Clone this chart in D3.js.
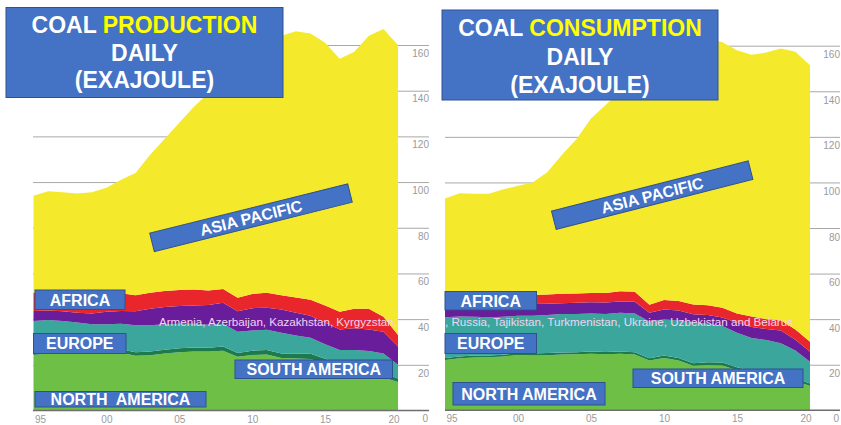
<!DOCTYPE html>
<html>
<head>
<meta charset="utf-8">
<script src="https://cdn.jsdelivr.net/npm/d3@7"></script>
<style>
  html, body { margin: 0; padding: 0; background: #ffffff; }
  svg { display: block; font-family: "Liberation Sans", Arial, sans-serif; }
</style>
</head>
<body>
<svg id="chart" width="841" height="425"></svg>
<script>
// ---- data (exajoules) ----
const years = [1995, 1996, 1997, 1998, 1999, 2000, 2001, 2002, 2003, 2004, 2005, 2006, 2007,
               2008, 2009, 2010, 2011, 2012, 2013, 2014, 2015, 2016, 2017, 2018, 2019, 2020];

const seriesKeys = ["North America", "South America", "Europe", "CIS", "Africa", "Asia Pacific"];
const seriesColors = ["#6dbf46", "#1d7a4c", "#3ba69c", "#6a1d9b", "#e8262b", "#f5e92c"];

// production by region
const prodNorthAmerica = [24.3, 25.0, 25.2, 25.0, 24.7, 25.0, 25.3, 24.0, 24.2, 25.0, 25.5, 25.8, 25.8,
                          26.2, 23.5, 24.3, 24.5, 23.0, 22.8, 22.5, 20.5, 18.0, 18.2, 17.5, 14.5, 12.5];
const prodSouthAmerica = [1.2, 1.2, 1.2, 1.3, 1.3, 1.4, 1.5, 1.5, 1.6, 1.6, 1.7, 1.8, 1.7,
                          1.8, 1.7, 1.9, 2.0, 2.0, 2.2, 2.3, 2.1, 2.0, 2.3, 2.3, 2.0, 1.5];
const prodEurope       = [13.7, 13.4, 12.8, 12.2, 11.8, 11.4, 11.2, 11.8, 11.5, 11.2, 10.8, 10.4, 10.0,
                          10.0, 9.3, 8.8, 8.8, 9.0, 7.8, 7.0, 6.4, 6.5, 6.0, 6.2, 8.5, 6.0];
const prodCIS          = [4.4, 4.2, 4.2, 4.3, 4.7, 5.4, 5.6, 6.2, 7.2, 7.5, 7.8, 8.0, 8.7,
                          9.2, 9.0, 9.8, 9.7, 10.2, 10.0, 9.7, 9.5, 9.0, 9.5, 9.5, 9.5, 8.0];
const prodAfrica       = [7.9, 8.2, 8.6, 8.7, 8.8, 8.4, 7.7, 7.0, 7.0, 7.0, 7.0, 7.0, 6.3,
                          6.0, 5.9, 6.2, 6.5, 6.3, 6.7, 7.0, 7.5, 7.7, 8.5, 9.0, 6.5, 5.0];
const prodAsiaPacific  = [42.5, 44.0, 43.5, 43.5, 44.2, 45.9, 49.7, 53.5, 60.5, 66.7, 73.2, 80.0, 86.5,
                          91.8, 98.6, 105.0, 113.5, 113.5, 116.5, 116.5, 115.0, 110.8, 112.5, 119.5, 126.0, 127.0];

// consumption by region
const consNorthAmerica = [22.1, 22.8, 23.2, 23.3, 23.6, 24.3, 24.0, 24.2, 24.5, 24.6, 24.8, 24.6, 24.8,
                          24.5, 21.8, 22.9, 21.9, 19.5, 19.9, 19.7, 17.6, 15.9, 15.4, 14.9, 13.0, 10.7];
const consSouthAmerica = [0.8, 0.8, 0.8, 0.8, 0.8, 0.8, 0.9, 0.9, 0.9, 0.9, 1.0, 1.0, 1.0,
                          1.0, 1.0, 1.1, 1.1, 1.2, 1.2, 1.3, 1.3, 1.3, 1.3, 1.3, 1.2, 1.1];
const consEurope       = [17.9, 17.6, 17.0, 16.7, 16.6, 16.4, 16.6, 16.7, 16.9, 16.8, 16.7, 16.7, 17.0,
                          17.0, 16.2, 16.0, 16.4, 17.8, 16.9, 16.0, 15.1, 14.5, 14.1, 13.2, 12.0, 9.5];
const consCIS          = [5.2, 5.1, 5.0, 5.0, 5.0, 5.0, 5.2, 5.0, 4.7, 4.9, 4.9, 5.0, 5.0,
                          5.1, 3.8, 4.2, 4.4, 3.7, 3.8, 3.7, 4.4, 4.9, 4.9, 5.6, 4.8, 4.4];
const consAfrica       = [4.5, 4.7, 4.7, 4.5, 4.5, 4.3, 3.9, 4.0, 4.2, 4.1, 4.1, 4.2, 4.4,
                          4.4, 3.5, 4.2, 4.2, 4.2, 4.3, 4.3, 4.1, 4.6, 4.3, 4.5, 4.5, 4.4];
const consAsiaPacific  = [42.5, 44.2, 44.3, 44.7, 46.5, 47.7, 49.4, 53.7, 60.8, 67.7, 76.5, 82.5, 87.8,
                          91.0, 94.7, 101.6, 110.0, 112.6, 116.9, 116.5, 115.5, 114.8, 117.0, 119.3, 121.8, 121.3];

const yTickValues = [0, 20, 40, 60, 80, 100, 120, 140, 160];
const xTickYears = [1995, 2000, 2005, 2010, 2015, 2020];
const xTickLabels = ["95", "00", "05", "10", "15", "20"];

// CIS member note, one piece over each panel
const cisNoteParts = [
  "Armenia, Azerbaijan, Kazakhstan, Kyrgyzstan,",
  ", Russia, Tajikistan, Turkmenistan, Ukraine, Uzbekistan and Belarus"
];

// ---- layout ----
const svg = d3.select("#chart");
const BOX_FILL = "#4472c4", BOX_EDGE = "#2f528f";

function buildRows(cols) {
  return years.map((yr, i) => {
    const row = { year: yr };
    seriesKeys.forEach((k, j) => { row[k] = cols[j][i]; });
    return row;
  });
}

const panels = [
  {
    rows: buildRows([prodNorthAmerica, prodSouthAmerica, prodEurope, prodCIS, prodAfrica, prodAsiaPacific]),
    xRange: [33.5, 398], gridRange: [33, 429], yRange: [410.5, 45], labelDy: 11.3,
    title: ["PRODUCTION", 144.5, [32.5, 60.8, 88.2]],
    titleBox: [6, 7.5, 277, 90],
    labels: [
      { text: "AFRICA", box: [35, 290, 90, 19.5] },
      { text: "EUROPE", box: [33.5, 333.5, 92.5, 20] },
      { text: "NORTH  AMERICA", box: [35, 391.5, 171, 15.5] },
      { text: "SOUTH AMERICA", box: [235, 360, 157.5, 18.5] }
    ],
    tilted: { cx: 251, cy: 217.7, w: 204, h: 19, angle: -14 },
    note: { text: cisNoteParts[0], x: 159, width: 238 }
  },
  {
    rows: buildRows([consNorthAmerica, consSouthAmerica, consEurope, consCIS, consAfrica, consAsiaPacific]),
    xRange: [445, 810], gridRange: [445, 840], yRange: [410.3, 45.7], labelDy: 12,
    title: ["CONSUMPTION", 580, [36, 64.5, 92.5]],
    titleBox: [442, 10, 276, 90],
    labels: [
      { text: "AFRICA", box: [445, 291.5, 91.5, 18.5] },
      { text: "EUROPE", box: [445, 333.5, 91.5, 20] },
      { text: "NORTH AMERICA", box: [453, 382.5, 152, 22.5] },
      { text: "SOUTH AMERICA", box: [633, 369, 170, 18.5] }
    ],
    tilted: { cx: 652.2, cy: 195.2, w: 203, h: 19, angle: -14.3 },
    note: { text: cisNoteParts[1], x: 445, width: 348 }
  }
];

const stack = d3.stack().keys(seriesKeys);
const gridLayer = svg.append("g");
const areaLayer = svg.append("g");
const axisLayer = svg.append("g");
const boxLayer = svg.append("g");
const noteLayer = svg.append("g");
const titleLayer = svg.append("g");

function labelBox(parent, text, x, y, w, h) {
  parent.append("rect")
    .attr("x", x).attr("y", y).attr("width", w).attr("height", h)
    .attr("fill", BOX_FILL).attr("stroke", BOX_EDGE).attr("stroke-width", 1);
  parent.append("text")
    .attr("x", x + w / 2).attr("y", y + h / 2 + 5.8)
    .attr("text-anchor", "middle")
    .attr("font-size", 16).attr("font-weight", "bold")
    .attr("fill", "#ffffff")
    .style("white-space", "pre")
    .text(text);
}

panels.forEach(p => {
  const x = d3.scaleLinear().domain([1995, 2020]).range(p.xRange);
  const y = d3.scaleLinear().domain([0, 160]).range(p.yRange);

  // horizontal gridlines with hanging value labels at the right end
  const yAxis = d3.axisRight(y)
    .tickValues(yTickValues.filter(v => v > 0))
    .tickSize(-(p.gridRange[1] - p.gridRange[0]))
    .tickFormat(d3.format("d"));
  const gy = gridLayer.append("g")
    .attr("transform", `translate(${p.gridRange[1]},0)`)
    .call(yAxis);
  gy.select(".domain").remove();
  gy.selectAll(".tick line").attr("stroke", "#a8a8a8").attr("stroke-width", 1);
  gy.selectAll(".tick text")
    .attr("x", 0).attr("dy", null).attr("y", p.labelDy)
    .attr("text-anchor", "end")
    .attr("font-size", 10).attr("fill", "#9a9a9a")
    .attr("font-family", "Liberation Sans, Arial, sans-serif");

  // stacked regional areas
  const layers = stack(p.rows);
  const area = d3.area()
    .x(d => x(d.data.year))
    .y0(d => y(d[0]))
    .y1(d => y(d[1]));
  areaLayer.append("g").selectAll("path")
    .data(layers)
    .join("path")
    .attr("d", area)
    .attr("fill", (d, i) => seriesColors[i]);

  // zero baseline and its label
  axisLayer.append("line")
    .attr("x1", p.gridRange[0]).attr("x2", p.gridRange[1])
    .attr("y1", y(0)).attr("y2", y(0))
    .attr("stroke", "#6e6e6e").attr("stroke-width", 1.6);
  axisLayer.append("text")
    .attr("x", p.gridRange[1] - 1).attr("y", y(0) + p.labelDy)
    .attr("text-anchor", "end")
    .attr("font-size", 10).attr("fill", "#9a9a9a")
    .text(d3.format("d")(yTickValues[0]));

  // year axis
  const xAxis = d3.axisBottom(x)
    .tickValues(xTickYears)
    .tickSize(0)
    .tickFormat((d, i) => xTickLabels[i]);
  const gx = axisLayer.append("g")
    .attr("transform", `translate(0,${y(0)})`)
    .call(xAxis);
  gx.select(".domain").remove();
  gx.selectAll(".tick text")
    .attr("y", 12).attr("dy", null)
    .attr("font-size", 10).attr("fill", "#9a9a9a")
    .attr("font-family", "Liberation Sans, Arial, sans-serif")
    .attr("text-anchor", (d, i) => i === 0 ? "start" : (i === xTickYears.length - 1 ? "end" : "middle"))
    .attr("dx", (d, i) => i === 0 ? 1 : (i === xTickYears.length - 1 ? 1 : 0));

  // region labels
  p.labels.forEach(l => labelBox(boxLayer, l.text, ...l.box));

  const t = p.tilted;
  const tg = boxLayer.append("g")
    .attr("transform", `translate(${t.cx},${t.cy}) rotate(${t.angle})`);
  labelBox(tg, "ASIA PACIFIC", -t.w / 2, -t.h / 2, t.w, t.h);

  // CIS note across the purple / teal boundary
  noteLayer.append("text")
    .attr("x", p.note.x).attr("y", 325.8)
    .attr("font-size", 10.8)
    .attr("fill", "#f3d3f3")
    .attr("textLength", p.note.width)
    .attr("lengthAdjust", "spacingAndGlyphs")
    .text(p.note.text);

  // title block
  const [tx, ty, tw, th] = p.titleBox;
  titleLayer.append("rect")
    .attr("x", tx).attr("y", ty).attr("width", tw).attr("height", th)
    .attr("fill", BOX_FILL).attr("stroke", BOX_EDGE).attr("stroke-width", 1);
  const [word, cx, baselines] = p.title;
  const line1 = titleLayer.append("text")
    .attr("x", cx).attr("y", baselines[0])
    .attr("text-anchor", "middle")
    .attr("font-size", 23).attr("font-weight", "bold")
    .attr("fill", "#ffffff");
  line1.append("tspan").text("COAL ");
  line1.append("tspan").attr("fill", "#ffff00").text(word);
  ["DAILY", "(EXAJOULE)"].forEach((s, i) => {
    titleLayer.append("text")
      .attr("x", cx).attr("y", baselines[i + 1])
      .attr("text-anchor", "middle")
      .attr("font-size", 23).attr("font-weight", "bold")
      .attr("fill", "#ffffff")
      .text(s);
  });
});
</script>
</body>
</html>
